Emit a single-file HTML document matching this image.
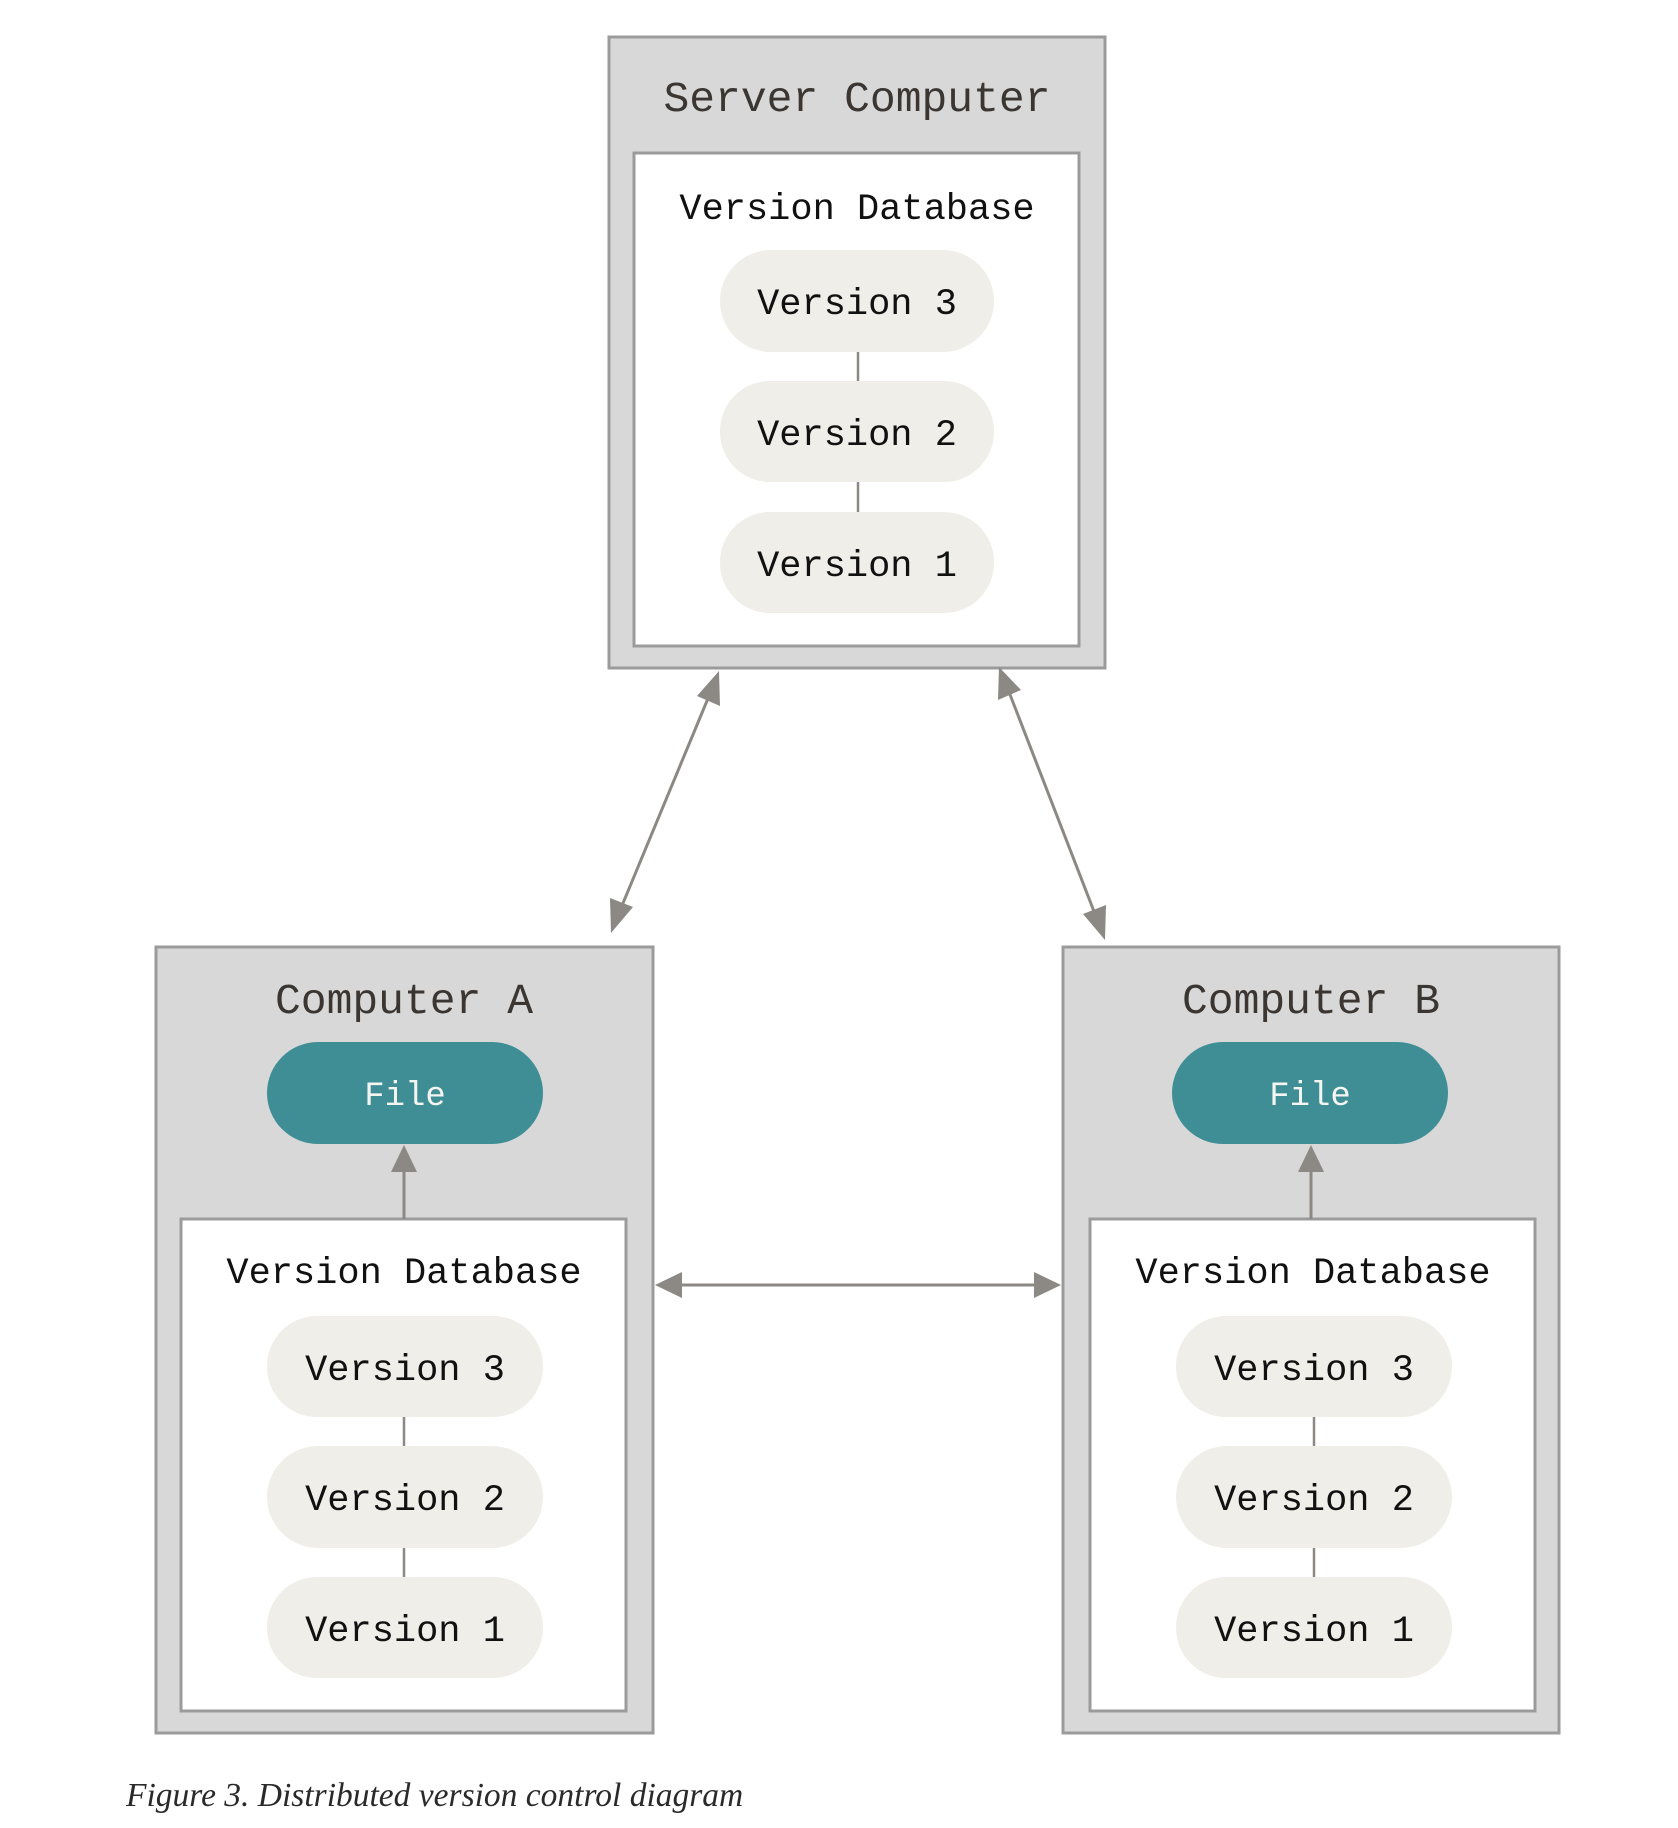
<!DOCTYPE html>
<html><head><meta charset="utf-8"><style>
html,body{margin:0;padding:0;background:#fff;}
svg{display:block;}
</style></head><body>
<svg width="1678" height="1828" viewBox="0 0 1678 1828" xmlns="http://www.w3.org/2000/svg">
<g font-family="Liberation Mono, monospace" text-anchor="middle">
<!-- Server -->
<rect x="609" y="37" width="496" height="631" fill="#d8d8d8" stroke="#9b9b9b" stroke-width="3"/>
<rect x="634" y="153" width="445" height="493" fill="#fff" stroke="#9b9b9b" stroke-width="3"/>
<text x="857" y="111" font-size="43" fill="#3b3632">Server Computer</text>
<text x="857" y="219" font-size="37" fill="#111">Version Database</text>
<line x1="858" y1="352" x2="858" y2="381" stroke="#8c8984" stroke-width="2.5"/>
<line x1="858" y1="482" x2="858" y2="512" stroke="#8c8984" stroke-width="2.5"/>
<rect x="720" y="250" width="274" height="102" rx="51" fill="#efeee8"/>
<rect x="720" y="381" width="274" height="101" rx="50" fill="#efeee8"/>
<rect x="720" y="512" width="274" height="101" rx="50" fill="#efeee8"/>
<text x="857" y="314" font-size="37" fill="#111">Version 3</text>
<text x="857" y="445" font-size="37" fill="#111">Version 2</text>
<text x="857" y="576" font-size="37" fill="#111">Version 1</text>

<!-- Computer A -->
<rect x="156" y="947" width="497" height="786" fill="#d8d8d8" stroke="#9b9b9b" stroke-width="3"/>
<rect x="181" y="1219" width="445" height="492" fill="#fff" stroke="#9b9b9b" stroke-width="3"/>
<text x="404" y="1013" font-size="43" fill="#3b3632">Computer A</text>
<rect x="267" y="1042" width="276" height="102" rx="51" fill="#3f8e96"/>
<text x="405" y="1105" font-size="34" fill="#f4f4f0">File</text>
<line x1="404" y1="1219" x2="404" y2="1170" stroke="#8c8984" stroke-width="3"/>
<polygon points="404,1145 391,1172 417,1172" fill="#8c8984"/>
<text x="404" y="1283" font-size="37" fill="#111">Version Database</text>
<line x1="404" y1="1417" x2="404" y2="1446" stroke="#8c8984" stroke-width="2.5"/>
<line x1="404" y1="1548" x2="404" y2="1577" stroke="#8c8984" stroke-width="2.5"/>
<rect x="267" y="1316" width="276" height="101" rx="50" fill="#efeee8"/>
<rect x="267" y="1446" width="276" height="102" rx="51" fill="#efeee8"/>
<rect x="267" y="1577" width="276" height="101" rx="50" fill="#efeee8"/>
<text x="405" y="1380" font-size="37" fill="#111">Version 3</text>
<text x="405" y="1510" font-size="37" fill="#111">Version 2</text>
<text x="405" y="1641" font-size="37" fill="#111">Version 1</text>

<!-- Computer B -->
<rect x="1063" y="947" width="496" height="786" fill="#d8d8d8" stroke="#9b9b9b" stroke-width="3"/>
<rect x="1090" y="1219" width="445" height="492" fill="#fff" stroke="#9b9b9b" stroke-width="3"/>
<text x="1311" y="1013" font-size="43" fill="#3b3632">Computer B</text>
<rect x="1172" y="1042" width="276" height="102" rx="51" fill="#3f8e96"/>
<text x="1310" y="1105" font-size="34" fill="#f4f4f0">File</text>
<line x1="1311" y1="1219" x2="1311" y2="1170" stroke="#8c8984" stroke-width="3"/>
<polygon points="1311,1145 1298,1172 1324,1172" fill="#8c8984"/>
<text x="1313" y="1283" font-size="37" fill="#111">Version Database</text>
<line x1="1314" y1="1417" x2="1314" y2="1446" stroke="#8c8984" stroke-width="2.5"/>
<line x1="1314" y1="1548" x2="1314" y2="1577" stroke="#8c8984" stroke-width="2.5"/>
<rect x="1176" y="1316" width="276" height="101" rx="50" fill="#efeee8"/>
<rect x="1176" y="1446" width="276" height="102" rx="51" fill="#efeee8"/>
<rect x="1176" y="1577" width="276" height="101" rx="50" fill="#efeee8"/>
<text x="1314" y="1380" font-size="37" fill="#111">Version 3</text>
<text x="1314" y="1510" font-size="37" fill="#111">Version 2</text>
<text x="1314" y="1641" font-size="37" fill="#111">Version 1</text>
</g>

<!-- connectors -->
<g stroke="#8c8984" stroke-width="3" fill="#8c8984">
<line x1="709" y1="696" x2="621" y2="908"/>
<polygon points="719,671 697,696 720,706" stroke="none"/>
<polygon points="611,933 610,898 633,907" stroke="none"/>
<line x1="1009" y1="692" x2="1095" y2="914"/>
<polygon points="999,667 998,700 1021,690" stroke="none"/>
<polygon points="1105,940 1083,914 1106,905" stroke="none"/>
<line x1="680" y1="1285" x2="1036" y2="1285"/>
<polygon points="655,1285 682,1272 682,1298" stroke="none"/>
<polygon points="1061,1285 1034,1272 1034,1298" stroke="none"/>
</g>

<text x="126" y="1806" font-family="Liberation Serif, serif" font-style="italic" font-size="33.5" fill="#2a2a2a">Figure 3. Distributed version control diagram</text>
</svg>
</body></html>
